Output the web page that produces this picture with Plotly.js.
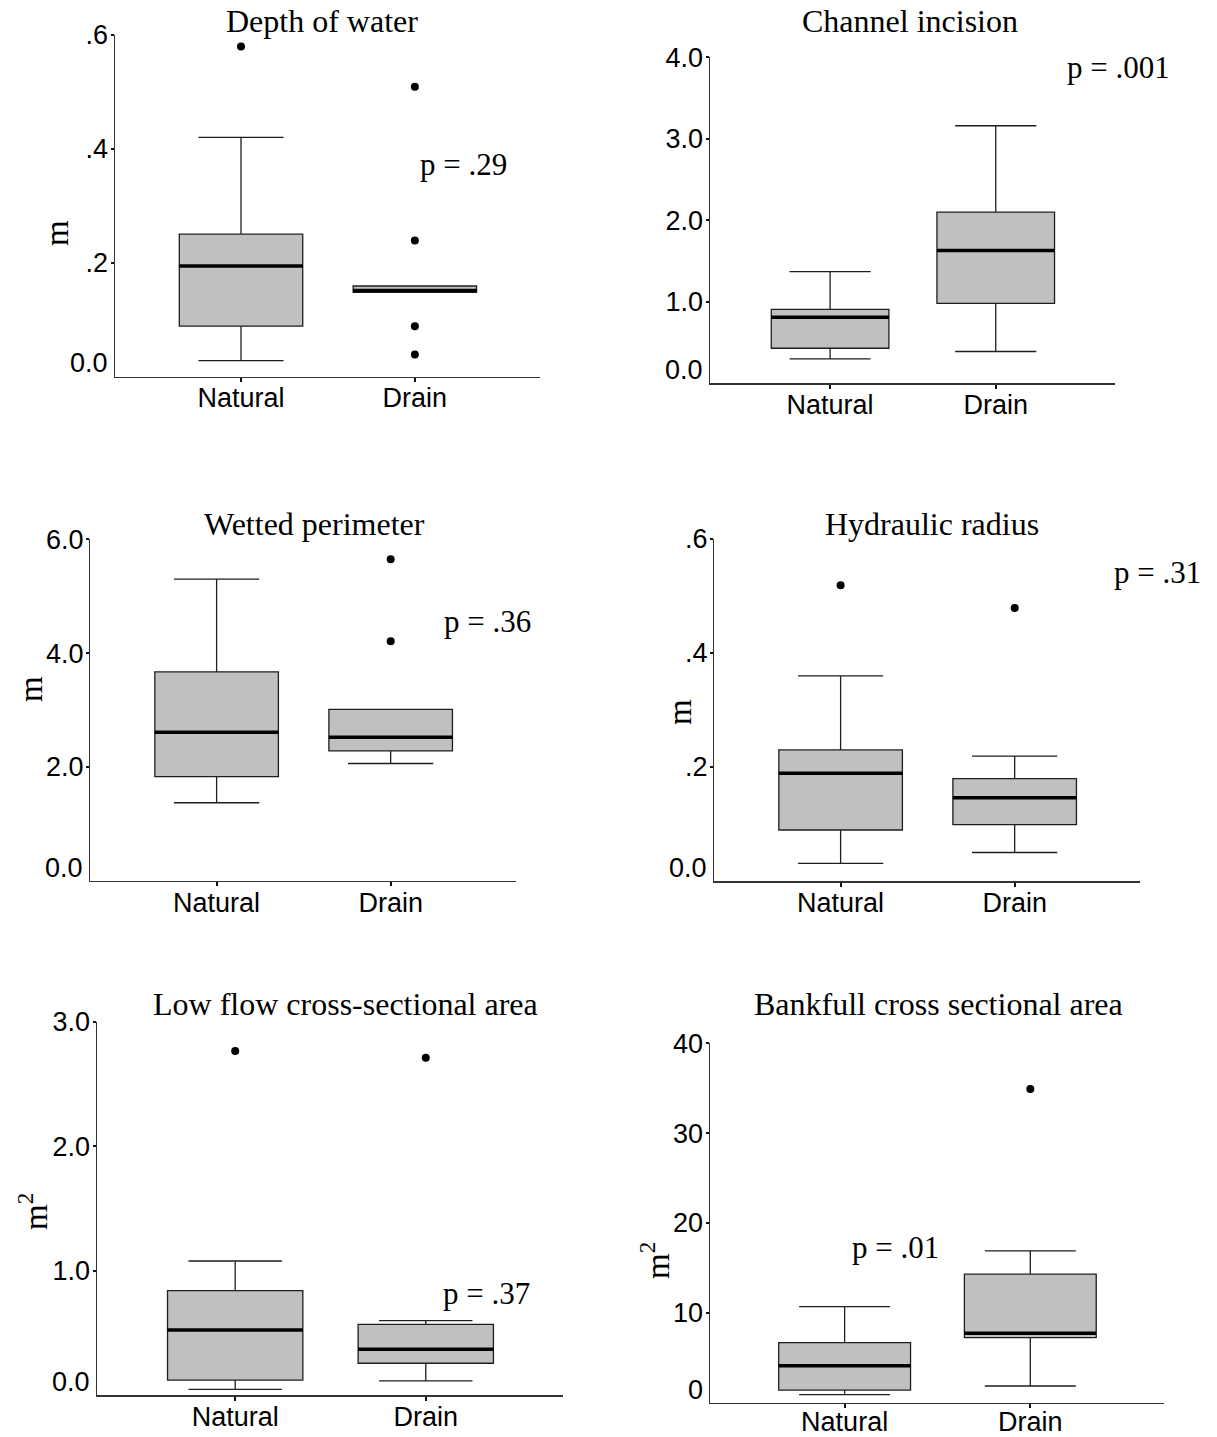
<!DOCTYPE html>
<html>
<head>
<meta charset="utf-8">
<script src="https://cdn.plot.ly/plotly-3.0.1.min.js"></script>
<style>
html, body { margin: 0; padding: 0; background: #ffffff; }
#chart { width: 1217px; height: 1437px; }
</style>
</head>
<body>
<div id="chart"></div>
<script>
// ---------------- data ----------------
const categories = ['Natural', 'Drain'];
const panelTitles = ['Depth of water', 'Channel incision', 'Wetted perimeter',
                     'Hydraulic radius', 'Low flow cross-sectional area', 'Bankfull cross sectional area'];
const yUnits = ['m', '', 'm', 'm', 'm<sup>2</sup>', 'm<sup>2</sup>'];
const pLabels = ['p = .29', 'p = .001', 'p = .36', 'p = .31', 'p = .37', 'p = .01'];

// each entry: [Natural, Drain]
const lowerWhisker = [[0.028, 0.148], [0.30, 0.39], [1.37, 2.06], [0.031, 0.050], [0.046, 0.113], [0.89, 1.86]];
const q1Values     = [[0.0885, 0.148], [0.43, 0.98], [1.83, 2.28], [0.0895, 0.099], [0.12, 0.255], [1.41, 7.24]];
const medianValues = [[0.194, 0.151], [0.81, 1.63], [2.61, 2.52], [0.189, 0.146], [0.522, 0.367], [4.12, 7.73]];
const q3Values     = [[0.25, 0.159], [0.908, 2.10], [3.67, 3.01], [0.23, 0.1795], [0.838, 0.568], [6.68, 14.3]];
const upperWhisker = [[0.42, 0.159], [1.37, 3.16], [5.30, 3.01], [0.36, 0.219], [1.077, 0.597], [10.7, 16.9]];

const outliersNatural = [[0.58], [], [], [0.519], [2.765], []];
const outliersDrain   = [[0.509, 0.239, 0.0885, 0.0387], [], [5.65, 4.21], [0.479], [2.71], [34.9]];

const yTickValues = [[0, 0.2, 0.4, 0.6], [0, 1, 2, 3, 4], [0, 2, 4, 6],
                     [0, 0.2, 0.4, 0.6], [0, 1, 2, 3], [0, 10, 20, 30, 40]];
const yTickLabels = [['0.0', '.2', '.4', '.6'], ['0.0', '1.0', '2.0', '3.0', '4.0'], ['0.0', '2.0', '4.0', '6.0'],
                     ['0.0', '.2', '.4', '.6'], ['0.0', '1.0', '2.0', '3.0'], ['0', '10', '20', '30', '40']];

// ---------------- layout geometry (pixels) ----------------
const W = 1217, H = 1437;
const frames = [ // left, right, top, bottom
  [115, 540, 35, 376.5],
  [710, 1115, 57.3, 383.3],
  [90.4, 516, 539.3, 880.7],
  [714.4, 1140, 539, 881],
  [97, 563, 1021.7, 1395],
  [710, 1164, 1043.3, 1402.7]
];
const xLabelStandoff = [-7, -7, -7, -7, -7, -10];
const titlePos = [[322, 21], [910, 21], [314, 524], [932, 524], [345, 1004], [938, 1004]];
const unitPos  = [[57, 233], null, [31, 689], [680, 712], [33, 1212], [655, 1261]];
const pPos     = [[463, 164], [1118, 68], [487, 621], [1157, 573], [486, 1293], [895, 1247]];

const SANS = 'Liberation Sans, Arial, sans-serif';
const SERIF = 'Liberation Serif, Times New Roman, serif';
const BOXW = 0.71;

const traces = [];
const layout = {
  width: W, height: H,
  margin: {l: 0, r: 0, t: 0, b: 0},
  paper_bgcolor: '#ffffff',
  plot_bgcolor: 'rgba(0,0,0,0)',
  showlegend: false,
  boxmode: 'overlay',
  annotations: []
};

panelTitles.forEach((title, i) => {
  const k = i === 0 ? '' : String(i + 1);
  const xa = 'x' + k, ya = 'y' + k;
  const [l, r, t, b] = frames[i];
  const pos = categories.map((c, j) => j);

  traces.push({
    type: 'box', xaxis: xa, yaxis: ya,
    x: pos,
    q1: q1Values[i], median: medianValues[i], q3: q3Values[i],
    lowerfence: lowerWhisker[i], upperfence: upperWhisker[i],
    width: BOXW, whiskerwidth: 0.69,
    boxpoints: false,
    fillcolor: '#c0c0c0',
    line: {color: '#1e1e1e', width: 1.3},
    hoverinfo: 'skip'
  });
  // heavy median bar
  traces.push({
    type: 'box', xaxis: xa, yaxis: ya,
    x: pos,
    q1: medianValues[i], median: medianValues[i], q3: medianValues[i],
    lowerfence: medianValues[i], upperfence: medianValues[i],
    width: BOXW, whiskerwidth: 0,
    boxpoints: false,
    fillcolor: 'rgba(0,0,0,0)',
    line: {color: '#000000', width: 3.5},
    hoverinfo: 'skip'
  });
  // outliers
  const ox = outliersNatural[i].map(() => 0).concat(outliersDrain[i].map(() => 1));
  const oy = outliersNatural[i].concat(outliersDrain[i]);
  traces.push({
    type: 'scatter', mode: 'markers', xaxis: xa, yaxis: ya,
    x: ox, y: oy,
    marker: {color: '#000000', size: 8},
    hoverinfo: 'skip', cliponaxis: false
  });

  const ticks = yTickValues[i];
  layout['xaxis' + k] = {
    domain: [l / W, r / W],
    range: [-0.725, 1.72],
    anchor: ya,
    showline: true, linecolor: '#333333', linewidth: 1.5,
    ticks: 'outside', ticklen: 4, tickwidth: 2, tickcolor: '#111111',
    tickvals: pos, ticktext: categories,
    ticklabelstandoff: xLabelStandoff[i],
    tickfont: {family: SANS, size: 27, color: '#000000'},
    showgrid: false, zeroline: false, fixedrange: true
  };
  layout['yaxis' + k] = {
    domain: [1 - b / H, 1 - t / H],
    range: [0, ticks[ticks.length - 1]],
    anchor: xa,
    showline: true, linecolor: '#333333', linewidth: 1.5,
    ticks: 'outside', ticklen: 3, tickwidth: 2, tickcolor: '#111111',
    tickvals: ticks.slice(1),
    ticktext: yTickLabels[i].slice(1),
    ticklabelstandoff: -3,
    tickfont: {family: SANS, size: 27, color: '#000000'},
    showgrid: false, zeroline: false, fixedrange: true
  };

  // zero label, raised above the corner (as in the original)
  layout.annotations.push({
    xref: xa + ' domain', yref: ya, x: 0, y: ticks[0],
    xanchor: 'right', yanchor: 'middle', xshift: -5, yshift: 13,
    text: yTickLabels[i][0], showarrow: false,
    font: {family: SANS, size: 27, color: '#000000'}
  });
  // panel title
  layout.annotations.push({
    xref: 'paper', yref: 'paper',
    x: titlePos[i][0] / W, y: 1 - titlePos[i][1] / H,
    xanchor: 'center', yanchor: 'middle',
    text: title, showarrow: false,
    font: {family: SERIF, size: 32, color: '#000000'}
  });
  // p value
  layout.annotations.push({
    xref: 'paper', yref: 'paper',
    x: pPos[i][0] / W, y: 1 - pPos[i][1] / H,
    xanchor: 'center', yanchor: 'middle',
    text: pLabels[i], showarrow: false,
    font: {family: SERIF, size: 31, color: '#000000'}
  });
  // unit label
  if (yUnits[i] && unitPos[i]) {
    layout.annotations.push({
      xref: 'paper', yref: 'paper',
      x: unitPos[i][0] / W, y: 1 - unitPos[i][1] / H,
      xanchor: 'center', yanchor: 'middle', textangle: -90,
      text: yUnits[i], showarrow: false,
      font: {family: SERIF, size: 33, color: '#000000'}
    });
  }
});

Plotly.newPlot('chart', traces, layout, {staticPlot: true, displayModeBar: false});
</script>
</body>
</html>
